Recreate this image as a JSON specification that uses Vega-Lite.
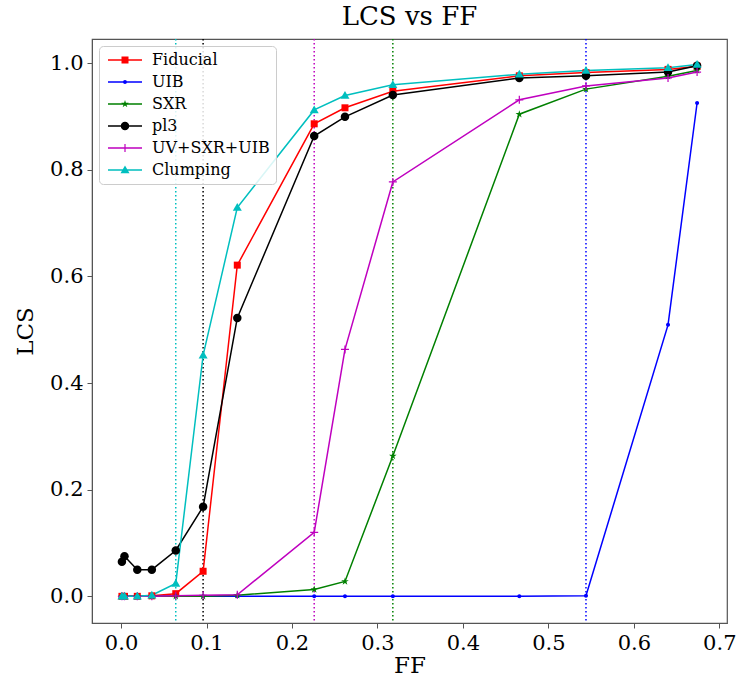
{
  "$schema": "https://vega.github.io/schema/vega-lite/v6.json",
  "width": 635,
  "height": 584,
  "autosize": {"type": "none"},
  "padding": {"left": 92, "top": 39, "right": 15, "bottom": 56},
  "background": "white",
  "title": {"text": "LCS vs FF", "font": "DejaVu Serif", "fontSize": 26, "fontWeight": "normal", "color": "#000", "anchor": "middle", "offset": 8},
  "config": {
    "view": {"stroke": "#555", "strokeWidth": 1.2},
    "axis": {
      "labelFont": "DejaVu Serif", "labelFontSize": 21, "labelColor": "#000",
      "titleFont": "DejaVu Serif", "titleFontSize": 23, "titleFontWeight": "normal", "titleColor": "#000",
      "tickColor": "#555", "tickSize": 5, "domainColor": "#555", "grid": false, "labelPadding": 4
    }
  },
  "datasets": {
    "curves": [
      {"s": "Fiducial", "ff": 0.001, "lcs": 0.0}, {"s": "Fiducial", "ff": 0.004, "lcs": 0.0}, {"s": "Fiducial", "ff": 0.019, "lcs": 0.0}, {"s": "Fiducial", "ff": 0.036, "lcs": 0.001}, {"s": "Fiducial", "ff": 0.064, "lcs": 0.005}, {"s": "Fiducial", "ff": 0.096, "lcs": 0.047}, {"s": "Fiducial", "ff": 0.136, "lcs": 0.621}, {"s": "Fiducial", "ff": 0.226, "lcs": 0.886}, {"s": "Fiducial", "ff": 0.262, "lcs": 0.916}, {"s": "Fiducial", "ff": 0.318, "lcs": 0.947}, {"s": "Fiducial", "ff": 0.466, "lcs": 0.976}, {"s": "Fiducial", "ff": 0.544, "lcs": 0.982}, {"s": "Fiducial", "ff": 0.64, "lcs": 0.988}, {"s": "Fiducial", "ff": 0.674, "lcs": 0.994},
      {"s": "UIB", "ff": 0.001, "lcs": 0.0}, {"s": "UIB", "ff": 0.004, "lcs": 0.0}, {"s": "UIB", "ff": 0.019, "lcs": 0.0}, {"s": "UIB", "ff": 0.036, "lcs": 0.0}, {"s": "UIB", "ff": 0.064, "lcs": 0.0}, {"s": "UIB", "ff": 0.096, "lcs": 0.0}, {"s": "UIB", "ff": 0.136, "lcs": 0.0}, {"s": "UIB", "ff": 0.226, "lcs": 0.0}, {"s": "UIB", "ff": 0.262, "lcs": 0.0}, {"s": "UIB", "ff": 0.318, "lcs": 0.0}, {"s": "UIB", "ff": 0.466, "lcs": 0.0}, {"s": "UIB", "ff": 0.544, "lcs": 0.001}, {"s": "UIB", "ff": 0.64, "lcs": 0.509}, {"s": "UIB", "ff": 0.674, "lcs": 0.925},
      {"s": "SXR", "ff": 0.001, "lcs": 0.0}, {"s": "SXR", "ff": 0.004, "lcs": 0.0}, {"s": "SXR", "ff": 0.019, "lcs": 0.0}, {"s": "SXR", "ff": 0.036, "lcs": 0.0}, {"s": "SXR", "ff": 0.064, "lcs": 0.0}, {"s": "SXR", "ff": 0.096, "lcs": 0.0}, {"s": "SXR", "ff": 0.136, "lcs": 0.002}, {"s": "SXR", "ff": 0.226, "lcs": 0.013}, {"s": "SXR", "ff": 0.262, "lcs": 0.028}, {"s": "SXR", "ff": 0.318, "lcs": 0.263}, {"s": "SXR", "ff": 0.466, "lcs": 0.904}, {"s": "SXR", "ff": 0.544, "lcs": 0.951}, {"s": "SXR", "ff": 0.64, "lcs": 0.975}, {"s": "SXR", "ff": 0.674, "lcs": 0.986},
      {"s": "pl3", "ff": 0.001, "lcs": 0.065}, {"s": "pl3", "ff": 0.004, "lcs": 0.075}, {"s": "pl3", "ff": 0.019, "lcs": 0.05}, {"s": "pl3", "ff": 0.036, "lcs": 0.05}, {"s": "pl3", "ff": 0.064, "lcs": 0.086}, {"s": "pl3", "ff": 0.096, "lcs": 0.168}, {"s": "pl3", "ff": 0.136, "lcs": 0.522}, {"s": "pl3", "ff": 0.226, "lcs": 0.863}, {"s": "pl3", "ff": 0.262, "lcs": 0.899}, {"s": "pl3", "ff": 0.318, "lcs": 0.94}, {"s": "pl3", "ff": 0.466, "lcs": 0.972}, {"s": "pl3", "ff": 0.544, "lcs": 0.976}, {"s": "pl3", "ff": 0.64, "lcs": 0.983}, {"s": "pl3", "ff": 0.674, "lcs": 0.995},
      {"s": "UV+SXR+UIB", "ff": 0.001, "lcs": 0.0}, {"s": "UV+SXR+UIB", "ff": 0.004, "lcs": 0.0}, {"s": "UV+SXR+UIB", "ff": 0.019, "lcs": 0.0}, {"s": "UV+SXR+UIB", "ff": 0.036, "lcs": 0.0}, {"s": "UV+SXR+UIB", "ff": 0.064, "lcs": 0.001}, {"s": "UV+SXR+UIB", "ff": 0.096, "lcs": 0.002}, {"s": "UV+SXR+UIB", "ff": 0.136, "lcs": 0.003}, {"s": "UV+SXR+UIB", "ff": 0.226, "lcs": 0.12}, {"s": "UV+SXR+UIB", "ff": 0.262, "lcs": 0.463}, {"s": "UV+SXR+UIB", "ff": 0.318, "lcs": 0.777}, {"s": "UV+SXR+UIB", "ff": 0.466, "lcs": 0.931}, {"s": "UV+SXR+UIB", "ff": 0.544, "lcs": 0.957}, {"s": "UV+SXR+UIB", "ff": 0.64, "lcs": 0.972}, {"s": "UV+SXR+UIB", "ff": 0.674, "lcs": 0.983},
      {"s": "Clumping", "ff": 0.001, "lcs": 0.0}, {"s": "Clumping", "ff": 0.004, "lcs": 0.0}, {"s": "Clumping", "ff": 0.019, "lcs": 0.0}, {"s": "Clumping", "ff": 0.036, "lcs": 0.002}, {"s": "Clumping", "ff": 0.064, "lcs": 0.024}, {"s": "Clumping", "ff": 0.096, "lcs": 0.452}, {"s": "Clumping", "ff": 0.136, "lcs": 0.729}, {"s": "Clumping", "ff": 0.226, "lcs": 0.912}, {"s": "Clumping", "ff": 0.262, "lcs": 0.939}, {"s": "Clumping", "ff": 0.318, "lcs": 0.959}, {"s": "Clumping", "ff": 0.466, "lcs": 0.979}, {"s": "Clumping", "ff": 0.544, "lcs": 0.986}, {"s": "Clumping", "ff": 0.64, "lcs": 0.991}, {"s": "Clumping", "ff": 0.674, "lcs": 0.997}
    ],
    "thresholds": [
      {"s": "Clumping", "ff": 0.064},
      {"s": "pl3", "ff": 0.096},
      {"s": "UV+SXR+UIB", "ff": 0.226},
      {"s": "SXR", "ff": 0.318},
      {"s": "UIB", "ff": 0.544}
    ]
  },
  "encoding": {
    "x": {"field": "ff", "type": "quantitative", "title": "FF", "scale": {"domain": [-0.034, 0.709], "nice": false, "zero": false}, "axis": {"values": [0, 0.1, 0.2, 0.3, 0.4, 0.5, 0.6, 0.7], "format": ".1f", "titlePadding": 1}},
    "color": {
      "field": "s", "type": "nominal",
      "scale": {"domain": ["Fiducial", "UIB", "SXR", "pl3", "UV+SXR+UIB", "Clumping"], "range": ["#ff0000", "#0000ff", "#008000", "#000000", "#bf00bf", "#00bfbf"]},
      "legend": {
        "title": null, "orient": "top-left", "offset": 7, "padding": 6,
        "labelFont": "DejaVu Serif", "labelFontSize": 16, "labelColor": "#000",
        "symbolSize": 100, "labelOffset": 31, "rowPadding": 6,
        "strokeColor": "#cccccc", "fillColor": "rgba(255,255,255,0.85)", "cornerRadius": 4,
        "encode": {
          "symbols": {
            "update": {
              "shape": {"signal": "datum.value === 'Fiducial' ? 'M-1,-0.15H5.8V0.15H-1Z M1.7,-0.7H3.1V0.7H1.7Z' : datum.value === 'UIB' ? 'M-1,-0.15H5.8V0.15H-1Z M2,0A0.4,0.4 0 1,1 2.8,0A0.4,0.4 0 1,1 2,0Z' : datum.value === 'SXR' ? 'M-1,-0.15H5.8V0.15H-1Z M2.4,-0.8L2.58,-0.247L3.161,-0.247L2.69,0.094L2.87,0.647L2.4,0.306L1.93,0.647L2.11,0.094L1.639,-0.247L2.22,-0.247Z' : datum.value === 'pl3' ? 'M-1,-0.15H5.8V0.15H-1Z M1.55,0A0.85,0.85 0 1,1 3.25,0A0.85,0.85 0 1,1 1.55,0Z' : datum.value === 'UV+SXR+UIB' ? 'M-1,-0.15H5.8V0.15H-1Z M2.28,-0.8H2.52V0.8H2.28Z' : 'M-1,-0.15H5.8V0.15H-1Z M2.4,-0.9L3.3,0.65L1.5,0.65Z'"},
              "fill": {"signal": "scale('color', datum.value)"},
              "stroke": {"value": "transparent"},
              "strokeWidth": {"value": 0},
              "opacity": {"value": 1}
            }
          }
        }
      }
    }
  },
  "layer": [
    {
      "data": {"name": "thresholds"},
      "mark": {"type": "rule", "strokeDash": [1.5, 2.5], "strokeWidth": 1.5},
      "encoding": {}
    },
    {
      "data": {"name": "curves"},
      "mark": {"type": "line", "strokeWidth": 1.5},
      "encoding": {
        "y": {"field": "lcs", "type": "quantitative", "title": "LCS", "scale": {"domain": [-0.05, 1.045], "nice": false, "zero": false}, "axis": {"values": [0, 0.2, 0.4, 0.6, 0.8, 1.0], "format": ".1f", "titlePadding": 12}}
      }
    },
    {
      "data": {"name": "curves"},
      "transform": [{"filter": "datum.s === 'Fiducial'"}],
      "mark": {"type": "point", "filled": true, "size": 100, "opacity": 1, "strokeWidth": 0, "shape": "M-0.7,-0.7H0.7V0.7H-0.7Z"},
      "encoding": {"y": {"field": "lcs", "type": "quantitative"}}
    },
    {
      "data": {"name": "curves"},
      "transform": [{"filter": "datum.s === 'UIB'"}],
      "mark": {"type": "point", "filled": true, "size": 100, "opacity": 1, "strokeWidth": 0, "shape": "M-0.4,0A0.4,0.4 0 1,1 0.4,0A0.4,0.4 0 1,1 -0.4,0Z"},
      "encoding": {"y": {"field": "lcs", "type": "quantitative"}}
    },
    {
      "data": {"name": "curves"},
      "transform": [{"filter": "datum.s === 'SXR'"}],
      "mark": {"type": "point", "filled": true, "size": 100, "opacity": 1, "strokeWidth": 0, "shape": "M0,-0.8L0.18,-0.247L0.761,-0.247L0.29,0.094L0.47,0.647L0,0.306L-0.47,0.647L-0.29,0.094L-0.761,-0.247L-0.18,-0.247Z"},
      "encoding": {"y": {"field": "lcs", "type": "quantitative"}}
    },
    {
      "data": {"name": "curves"},
      "transform": [{"filter": "datum.s === 'pl3'"}],
      "mark": {"type": "point", "filled": true, "size": 100, "opacity": 1, "strokeWidth": 0, "shape": "M-0.85,0A0.85,0.85 0 1,1 0.85,0A0.85,0.85 0 1,1 -0.85,0Z"},
      "encoding": {"y": {"field": "lcs", "type": "quantitative"}}
    },
    {
      "data": {"name": "curves"},
      "transform": [{"filter": "datum.s === 'UV+SXR+UIB'"}],
      "mark": {"type": "point", "filled": true, "size": 100, "opacity": 1, "strokeWidth": 0, "shape": "M-0.8,-0.12H0.8V0.12H-0.8Z M-0.12,-0.8H0.12V0.8H-0.12Z"},
      "encoding": {"y": {"field": "lcs", "type": "quantitative"}}
    },
    {
      "data": {"name": "curves"},
      "transform": [{"filter": "datum.s === 'Clumping'"}],
      "mark": {"type": "point", "filled": true, "size": 100, "opacity": 1, "strokeWidth": 0, "shape": "M0,-0.9L0.9,0.65L-0.9,0.65Z"},
      "encoding": {"y": {"field": "lcs", "type": "quantitative"}}
    }
  ]
}
